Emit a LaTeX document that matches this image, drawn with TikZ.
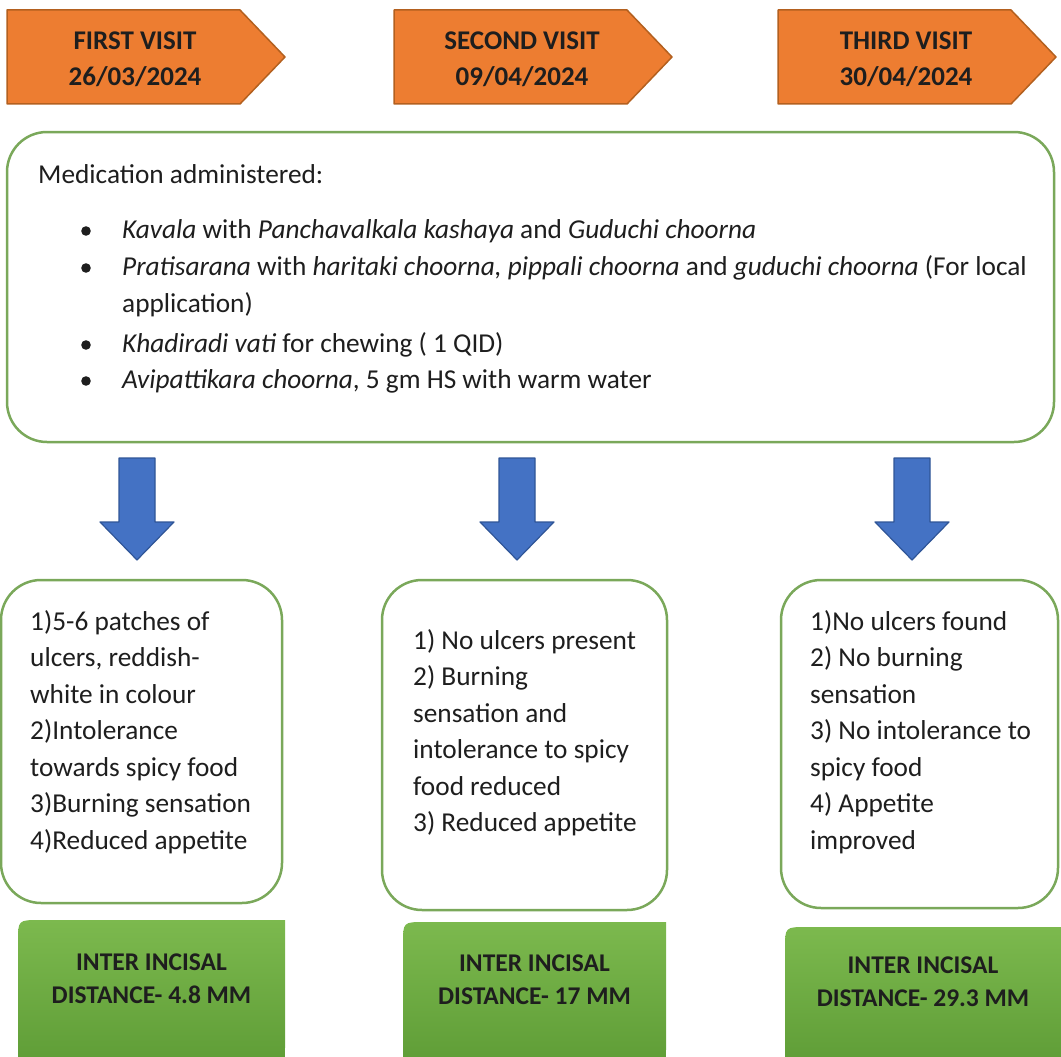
\documentclass[tikz,border=0pt]{standalone}
\usepackage{fontspec}
\setmainfont{Carlito}
\definecolor{visitfill}{HTML}{ED7D31}
\definecolor{visitline}{HTML}{B3601F}
\definecolor{panelline}{HTML}{7AA85A}
\definecolor{arrowfill}{HTML}{4472C4}
\definecolor{arrowline}{HTML}{2F5597}
\definecolor{greentop}{HTML}{7CB94E}
\definecolor{greenbot}{HTML}{5E9C36}
\definecolor{inktext}{HTML}{1E1E1E}
\tikzset{
  visit/.style={fill=visitfill, draw=visitline, line width=1.5pt},
  panel/.style={draw=panelline, line width=2.5pt, fill=white},
  downarrow/.style={fill=arrowfill, draw=arrowline, line width=1.2pt},
  incisal/.style={top color=greentop, bottom color=greenbot},
  txt/.style={inner sep=0pt, text=inktext},
}
\begin{document}
\begin{tikzpicture}[x=1pt, y=-1pt, font=\fontsize{27.3}{36.5}\selectfont, line join=round, line cap=round]
\useasboundingbox (0,0) rectangle (1061,1057);
\foreach \x/\n/\v/\d in {7/v1/{FIRST VISIT}/{26/03/2024}, 394/v2/{SECOND VISIT}/{09/04/2024}, 778/v3/{THIRD VISIT}/{30/04/2024}}{
\draw[visit, shift={(\x,0)}] (0,10) -- (233,10) -- (278,57) -- (233,104) -- (0,104) -- cycle;
\node[txt, font=\fontsize{27}{36}\selectfont\bfseries, align=center] (\n) at (\x+128,59) {\v\\\d};
}
\draw[panel, rounded corners=40] (7,132) rectangle (1054,442);
\node[txt, anchor=base west] (medhead) at (38,183) {Medication administered:};
\foreach \y in {238,275,352,388}
\fill[inktext] (86,\y-7) circle (4.8);
\node[txt, anchor=base west] (med1) at (122,238) {\textit{Kavala} with \textit{Panchavalkala kashaya} and \textit{Guduchi choorna}};
\node[txt, anchor=base west] (med2) at (122,275) {\textit{Pratisarana} with \textit{haritaki choorna, pippali choorna} and \textit{guduchi choorna} (For local};
\node[txt, anchor=base west] (med2b) at (122,312) {application)};
\node[txt, anchor=base west] (med3) at (122,352) {\textit{Khadiradi vati} for chewing ( 1 QID)};
\node[txt, anchor=base west] (med4) at (122,388) {\textit{Avipattikara choorna}, 5 gm HS with warm water};
\foreach \cx in {137,517,912}
\draw[downarrow, shift={(\cx,0)}] (-18,458) -- (18,458) -- (18,522) -- (37,522) -- (0,560) -- (-37,522) -- (-18,522) -- cycle;
\draw[panel, rounded corners=40] (1,580) rectangle (282,903);
\draw[panel, rounded corners=40] (382,580) rectangle (667,910);
\draw[panel, rounded corners=40] (781,580) rectangle (1058,908);
\node[txt, anchor=north west, align=left] (sym1) at (30,610) {1)5-6 patches of\\ulcers, reddish-\\white in colour\\2)Intolerance\\towards spicy food\\3)Burning sensation\\4)Reduced appetite};
\node[txt, anchor=north west, align=left] (sym2) at (413,629) {1) No ulcers present\\2) Burning\\sensation and\\intolerance to spicy\\food reduced\\3) Reduced appetite};
\node[txt, anchor=north west, align=left] (sym3) at (810,610) {1)No ulcers found\\2) No burning\\sensation\\3) No intolerance to\\spicy food\\4) Appetite\\improved};
\foreach \x/\w/\t/\n/\mm/\ty in {18/267/920/d1/4.8/979, 403/263/922/d2/17/980, 785/276/927/d3/29.3/982}{
\shade[incisal, shift={(\x,0)}] (0,1068) -- (0,\t+22) .. controls (0,\t) .. (22,\t) -- (\w,\t) -- (\w,1046) .. controls (\w,1068) .. (\w-22,1068) -- cycle;
\node[txt, font=\fontsize{25.5}{33}\selectfont\bfseries, align=center] (\n) at (\x+\w/2,\ty) {INTER INCISAL\\DISTANCE- \mm\ MM};
}
\end{tikzpicture}
\end{document}
